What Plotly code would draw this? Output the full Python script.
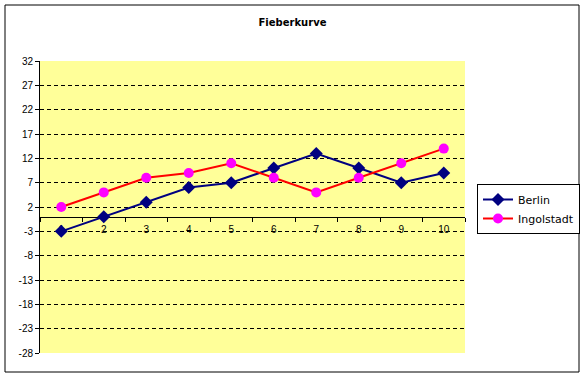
import plotly.graph_objects as go

categories = ["1", "2", "3", "4", "5", "6", "7", "8", "9", "10"]
berlin = [-3, 0, 3, 6, 7, 10, 13, 10, 7, 9]
ingolstadt = [2, 5, 8, 9, 11, 8, 5, 8, 11, 14]
y_ticks = [-28, -23, -18, -13, -8, -3, 2, 7, 12, 17, 22, 27, 32]

L, R, T, B = 40, 120, 61, 25
W, H = 585, 378
pw, ph = W - L - R, H - T - B

fig = go.Figure()
fig.add_trace(go.Scatter(
    x=categories, y=berlin, name="Berlin", mode="lines+markers",
    line=dict(color="#000080", width=2),
    marker=dict(symbol="diamond", size=10, color="#000080"),
))
fig.add_trace(go.Scatter(
    x=categories, y=ingolstadt, name="Ingolstadt", mode="lines+markers",
    line=dict(color="#FF0000", width=2),
    marker=dict(symbol="circle", size=10, color="#FF00FF"),
))

ymin, ymax = y_ticks[0], y_ticks[-1]

def px_x(p):
    return (p - L) / pw

def px_y(p):
    return (H - B - p) / ph

fig.update_layout(
    width=W, height=H,
    margin=dict(l=L, r=R, t=T, b=B, pad=0, autoexpand=False),
    paper_bgcolor="white",
    plot_bgcolor="#FFFF99",
    font=dict(family="Liberation Sans, Arial, sans-serif", size=10, color="black"),
    title=dict(text="<b>Fieberkurve</b>", x=0.5, xref="container", xanchor="center",
               y=1 - 22 / H, yref="container", yanchor="middle",
               font=dict(size=10, family="DejaVu Sans, sans-serif")),
    showlegend=True,
    legend=dict(x=px_x(477), y=px_y(184), xanchor="left", yanchor="top",
                bordercolor="black", borderwidth=1, bgcolor="white",
                font=dict(size=11, family="DejaVu Sans, sans-serif"),
                itemwidth=30, tracegroupgap=0),
    xaxis=dict(
        type="category", categoryorder="array", categoryarray=categories,
        tickmode="array", tickvals=categories, ticktext=categories,
        anchor="free", position=(0 - ymin) / (ymax - ymin),
        showline=True, linecolor="black", linewidth=1,
        ticks="outside", ticklen=4, tickcolor="black", tickson="boundaries",
        ticklabelstandoff=3,
        showgrid=False, zeroline=False, layer="below traces",
        range=[-0.5, 9.5],
        tickfont=dict(size=10),
    ),
    yaxis=dict(
        range=[ymin, ymax], tickmode="array", tickvals=y_ticks,
        ticktext=[str(v) for v in y_ticks],
        showline=True, linecolor="black", linewidth=1,
        ticks="outside", ticklen=4, tickcolor="black",
        showgrid=True, gridcolor="black", griddash="4px,3px", gridwidth=1,
        zeroline=False,
        tickfont=dict(size=10),
    ),
    shapes=[dict(type="rect", xref="paper", yref="paper",
                 x0=px_x(5), x1=px_x(579), y0=px_y(372), y1=px_y(5),
                 line=dict(color="black", width=1), fillcolor="rgba(0,0,0,0)",
                 layer="above")],
)

fig.write_html("out.html", config={"displayModeBar": False},
               post_script="document.body.style.margin='0';")
